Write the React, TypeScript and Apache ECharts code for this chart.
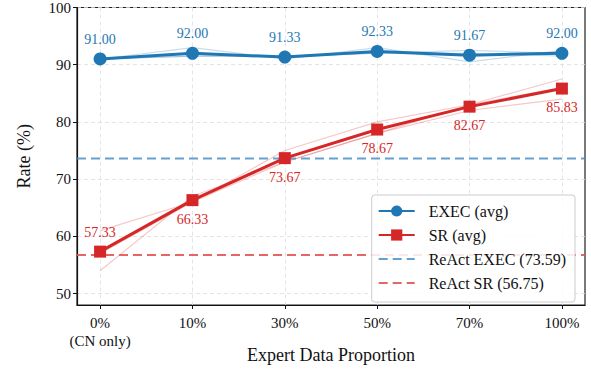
import React, { useEffect, useRef } from "react";
import * as echarts from "echarts";

const categories = ["0%\n(CN only)", "10%", "30%", "50%", "70%", "100%"];
const execAvg = [91.0, 92.0, 91.33, 92.33, 91.67, 92.0];
const srAvg = [57.33, 66.33, 73.67, 78.67, 82.67, 85.83];
const execRuns = [
  [91.0, 93.0, 91.0, 93.0, 90.5, 92.5],
  [91.0, 91.5, 91.5, 92.0, 92.5, 92.0],
  [91.0, 91.5, 91.5, 92.0, 92.0, 91.5],
];
const srRuns = [
  [61.0, 66.0, 75.0, 80.0, 83.0, 87.5],
  [57.0, 66.0, 73.0, 78.0, 83.0, 86.0],
  [54.0, 67.0, 73.0, 78.0, 82.0, 84.0],
];
const reactExec = 73.59;
const reactSr = 56.75;
const yTicks = [50, 60, 70, 80, 90, 100];

const BLUE = "#1f77b4";
const RED = "#d62728";
const FONT = "'Liberation Serif', 'Times New Roman', 'DejaVu Serif', serif";

export default function App() {
  const ref = useRef<HTMLDivElement>(null);
  useEffect(() => {
    const chart = echarts.init(ref.current!, null, { renderer: "svg" });
    const xIdx = categories.map((_, i) => i);
    const pair = (arr: number[]) => arr.map((v, i) => [xIdx[i], v]);
    const faint = (arr: number[], color: string, name: string) => ({
      name,
      type: "line",
      data: pair(arr),
      symbol: "none",
      lineStyle: { color, width: 1.2, opacity: 0.25 },
      z: 1,
      silent: true,
    });
    const option: any = {
      animation: false,
      textStyle: { fontFamily: FONT },
      grid: { left: 77, right: 6, top: 6, bottom: 76, show: true, borderColor: "#222", borderWidth: 1.2, backgroundColor: "transparent" },
      legend: {
        data: ["EXEC (avg)", "SR (avg)", "ReAct EXEC (73.59)", "ReAct SR (56.75)"],
        orient: "vertical",
        right: 16,
        bottom: 79,
        itemWidth: 36,
        itemHeight: 14,
        itemGap: 8,
        padding: [8, 9, 11, 6],
        backgroundColor: "rgba(255,255,255,0.85)",
        borderColor: "#ccc",
        borderWidth: 1,
        borderRadius: 3,
        textStyle: { fontFamily: FONT, fontSize: 16, color: "#111", padding: [0, 0, 0, 9] },
      },
      xAxis: {
        type: "value",
        min: -0.25,
        max: 5.25,
        name: "Expert Data Proportion",
        nameLocation: "middle",
        nameGap: 41,
        nameMoveOverlap: false,
        nameTextStyle: { fontFamily: FONT, fontSize: 18, color: "#111" },
        axisLine: { show: true, onZero: false, lineStyle: { color: "#111", width: 1.2 } },
        axisTick: { show: true, customValues: xIdx, length: 4, lineStyle: { color: "#111" } },
        axisLabel: {
          customValues: xIdx,
          formatter: (v: number) => categories[Math.round(v)] ?? "",
          fontFamily: FONT,
          fontSize: 15,
          color: "#111",
          margin: 9,
          lineHeight: 18,
        },
        splitLine: { show: true, lineStyle: { color: "#ddd", type: [4, 3], width: 0.8 } },
      },
      yAxis: {
        type: "value",
        min: 48,
        max: 100,
        name: "Rate (%)",
        nameLocation: "middle",
        nameGap: 44,
        nameMoveOverlap: false,
        nameTextStyle: { fontFamily: FONT, fontSize: 18, color: "#111" },
        axisLine: { show: true, onZero: false, lineStyle: { color: "#111", width: 1.2 } },
        axisTick: { show: true, customValues: yTicks, length: 4, lineStyle: { color: "#111" } },
        axisLabel: { customValues: yTicks, fontFamily: FONT, fontSize: 15, color: "#111", margin: 6 },
        splitLine: { show: true, lineStyle: { color: "#ddd", type: [4, 3], width: 0.8 } },
      },
      series: [
        ...execRuns.map((r, i) => faint(r, BLUE, "exec-run-" + i)),
        ...srRuns.map((r, i) => faint(r, RED, "sr-run-" + i)),
        {
          name: "ReAct EXEC (73.59)",
          type: "line",
          data: [[-0.25, reactExec], [5.25, reactExec]],
          symbol: "circle",
          showSymbol: false,
          lineStyle: { color: "#4a90c8", width: 2, type: [9, 5], opacity: 0.85 },
          itemStyle: { color: "transparent", borderWidth: 0 },
          z: 2,
        },
        {
          name: "ReAct SR (56.75)",
          type: "line",
          data: [[-0.25, reactSr], [5.25, reactSr]],
          symbol: "circle",
          showSymbol: false,
          lineStyle: { color: "#e25557", width: 2, type: [9, 5], opacity: 0.9 },
          itemStyle: { color: "transparent", borderWidth: 0 },
          z: 2,
        },
        {
          name: "EXEC (avg)",
          type: "line",
          data: pair(execAvg),
          symbol: "circle",
          symbolSize: 13,
          lineStyle: { color: BLUE, width: 3 },
          itemStyle: { color: BLUE },
          z: 5,
          label: {
            show: true,
            position: "top",
            distance: 6,
            formatter: (p: any) => p.value[1].toFixed(2),
            fontFamily: FONT,
            fontSize: 14,
            color: BLUE,
          },
        },
        {
          name: "SR (avg)",
          type: "line",
          data: pair(srAvg).map((d, i) => ({
            value: d,
            label: i === 0 ? { position: "top", distance: 6 } : { position: "bottom", distance: 6 },
          })),
          symbol: "rect",
          symbolSize: 12,
          lineStyle: { color: RED, width: 3 },
          itemStyle: { color: RED },
          z: 5,
          label: {
            show: true,
            formatter: (p: any) => p.value[1].toFixed(2),
            fontFamily: FONT,
            fontSize: 14,
            color: RED,
          },
        },
      ],
    };
    chart.setOption(option);
    return () => chart.dispose();
  }, []);
  return <div ref={ref} style={{ width: 591, height: 381, position: "absolute", left: 0, top: 0 }} />;
}
